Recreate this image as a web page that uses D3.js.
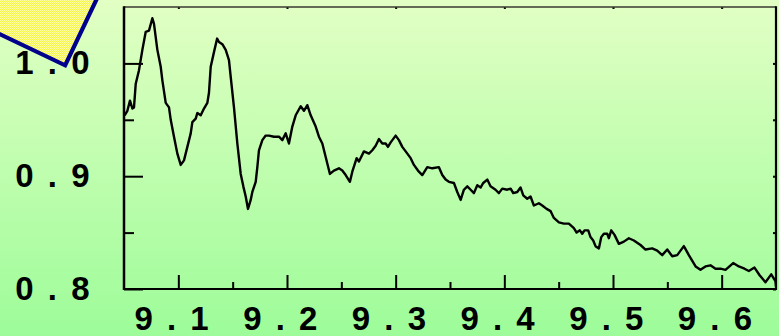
<!DOCTYPE html>
<html><head><meta charset="utf-8">
<script src="https://cdn.jsdelivr.net/npm/d3@7"></script>
<style>
html,body{margin:0;padding:0;overflow:hidden;background:#c0ffb0;}
svg{display:block;}
.lbl text{font-family:"Liberation Sans",Arial,sans-serif;font-weight:bold;font-size:33px;letter-spacing:2.5px;fill:#000;}
</style></head><body>
<svg id="chart" width="779" height="336"></svg>
<script>
// Measured spectrum: wavelength (x) and normalised response (y)
const wavelength = [
  9.0506,9.0531,9.0555,9.0577,9.0592,9.0608,9.0638,9.0669,9.0700,9.0730,
  9.0761,9.0776,9.0807,9.0838,9.0853,9.0884,9.0914,9.0930,9.0960,9.0991,
  9.1022,9.1052,9.1083,9.1114,9.1129,9.1160,9.1175,9.1206,9.1236,9.1267,
  9.1282,9.1298,9.1328,9.1357,9.1374,9.1405,9.1436,9.1466,9.1482,9.1512,
  9.1543,9.1574,9.1598,9.1620,9.1641,9.1666,9.1681,9.1712,9.1727,9.1742,
  9.1773,9.1804,9.1834,9.1880,9.1926,9.1957,9.1988,9.2018,9.2049,9.2080,
  9.2126,9.2156,9.2187,9.2218,9.2264,9.2294,9.2325,9.2356,9.2395,9.2432,
  9.2478,9.2509,9.2540,9.2579,9.2601,9.2641,9.2662,9.2708,9.2754,9.2785,
  9.2816,9.2846,9.2877,9.2908,9.2929,9.2954,9.3000,9.3030,9.3061,9.3092,
  9.3138,9.3168,9.3205,9.3245,9.3291,9.3337,9.3398,9.3429,9.3460,9.3490,
  9.3536,9.3567,9.3598,9.3628,9.3659,9.3690,9.3720,9.3751,9.3782,9.3806,
  9.3843,9.3873,9.3919,9.3950,9.3981,9.4027,9.4058,9.4082,9.4119,9.4149,
  9.4174,9.4211,9.4241,9.4272,9.4318,9.4349,9.4389,9.4426,9.4456,9.4502,
  9.4548,9.4594,9.4640,9.4665,9.4695,9.4717,9.4738,9.4772,9.4793,9.4818,
  9.4839,9.4870,9.4892,9.4916,9.4947,9.4962,9.4984,9.5014,9.5054,9.5100,
  9.5146,9.5192,9.5253,9.5299,9.5361,9.5407,9.5453,9.5499,9.5545,9.5591,
  9.5652,9.5698,9.5760,9.5805,9.5851,9.5897,9.5943,9.5989,9.6035,9.6106,
  9.6158,9.6210,9.6250,9.6302,9.6351,9.6403,9.6456,9.6495,9.6500
];
const response = [
  0.954,0.958,0.967,0.960,0.961,0.982,0.994,1.012,1.028,1.029,
  1.040,1.035,1.012,0.997,0.985,0.965,0.961,0.950,0.935,0.920,
  0.910,0.914,0.926,0.938,0.948,0.951,0.956,0.954,0.960,0.965,
  0.974,0.997,1.010,1.022,1.019,1.017,1.012,1.003,0.988,0.961,
  0.929,0.902,0.891,0.882,0.871,0.879,0.886,0.895,0.908,0.923,
  0.932,0.936,0.936,0.935,0.935,0.932,0.938,0.929,0.944,0.954,
  0.962,0.958,0.963,0.954,0.944,0.935,0.929,0.917,0.902,0.905,
  0.907,0.905,0.901,0.895,0.904,0.916,0.913,0.922,0.920,0.923,
  0.927,0.933,0.929,0.929,0.926,0.930,0.936,0.932,0.926,0.922,
  0.916,0.910,0.905,0.901,0.908,0.907,0.908,0.901,0.897,0.895,
  0.894,0.886,0.879,0.888,0.891,0.888,0.885,0.892,0.890,0.894,
  0.897,0.891,0.888,0.885,0.889,0.888,0.889,0.885,0.886,0.890,
  0.883,0.880,0.882,0.874,0.876,0.874,0.871,0.869,0.863,0.859,
  0.858,0.858,0.854,0.850,0.852,0.849,0.852,0.852,0.846,0.843,
  0.838,0.836,0.846,0.849,0.849,0.845,0.852,0.848,0.840,0.842,
  0.845,0.843,0.839,0.835,0.836,0.834,0.830,0.835,0.829,0.830,
  0.838,0.830,0.820,0.817,0.820,0.821,0.818,0.818,0.817,0.823,
  0.820,0.818,0.816,0.819,0.812,0.806,0.813,0.807,0.802
];

const xMajorTicks = [9.1, 9.2, 9.3, 9.4, 9.5, 9.6];
const xMinorTicks = [9.15, 9.25, 9.35, 9.45, 9.55];
const xTickLabels = ["9 . 1", "9 . 2", "9 . 3", "9 . 4", "9 . 5", "9 . 6"];
const yMajorTicks = [0.8, 0.9, 1.0];
const yMinorTicks = [0.85, 0.95];
const yTickLabels = ["0 . 8", "0 . 9", "1 . 0"];

const W = 779, H = 336;
const plot = {left: 124, right: 776, top: 7, bottom: 289};

const svg = d3.select("#chart");
const defs = svg.append("defs");

// background wash
const bg = defs.append("linearGradient").attr("id", "bgGrad")
  .attr("x1", 0).attr("y1", 0).attr("x2", 0).attr("y2", 1);
bg.append("stop").attr("offset", "0%").attr("stop-color", "#e2ffc4");
bg.append("stop").attr("offset", "100%").attr("stop-color", "#9dfc99");
svg.append("rect").attr("width", W).attr("height", H).attr("fill", "url(#bgGrad)");

// stippled yellow fill for the callout
const pat = defs.append("pattern").attr("id", "dots")
  .attr("width", 2).attr("height", 2).attr("patternUnits", "userSpaceOnUse");
pat.append("rect").attr("width", 2).attr("height", 2).attr("fill", "#f4f44c");
pat.append("rect").attr("width", 1).attr("height", 1).attr("fill", "#ffffa6");
pat.append("rect").attr("x", 1).attr("y", 1).attr("width", 1).attr("height", 1).attr("fill", "#ffffa6");

defs.append("clipPath").attr("id", "plotClip").append("rect")
  .attr("x", plot.left).attr("y", plot.top)
  .attr("width", plot.right - plot.left).attr("height", plot.bottom - plot.top);

const x = d3.scaleLinear().domain([9.05, 9.65]).range([plot.left, plot.right]);
const y = d3.scaleLinear().domain([0.8, 1.05]).range([plot.bottom, plot.top]);

// helper: axis of inward ticks, no labels
function ticks(axisFn, scale, values, size, transform) {
  const g = svg.append("g").attr("transform", transform)
    .call(axisFn(scale).tickValues(values).tickSize(-size).tickFormat(""));
  g.select(".domain").remove();
  g.selectAll("line").attr("stroke", "#000").attr("stroke-width", 2);
  return g;
}
ticks(d3.axisLeft, y, yMajorTicks, 19, `translate(${plot.left},0)`);
ticks(d3.axisLeft, y, yMinorTicks, 10, `translate(${plot.left},0)`);
ticks(d3.axisRight, y, yMajorTicks.concat(yMinorTicks), 3, `translate(${plot.right},0)`);
ticks(d3.axisBottom, x, xMajorTicks, 14, `translate(0,${plot.bottom})`);
ticks(d3.axisBottom, x, xMinorTicks, 7, `translate(0,${plot.bottom})`);
ticks(d3.axisTop, x, xMajorTicks, 2, `translate(0,${plot.top})`);

// frame
svg.append("line").attr("x1", plot.left).attr("x2", plot.right)
  .attr("y1", plot.top).attr("y2", plot.top)
  .attr("stroke", "#3a3a30").attr("stroke-width", 1.5);
svg.append("line").attr("x1", plot.left).attr("x2", plot.left)
  .attr("y1", plot.top - 0.75).attr("y2", plot.bottom + 1)
  .attr("stroke", "#000").attr("stroke-width", 2.5);
svg.append("line").attr("x1", plot.right).attr("x2", plot.right)
  .attr("y1", plot.top - 0.75).attr("y2", plot.bottom + 1)
  .attr("stroke", "#000").attr("stroke-width", 2.2);
svg.append("line").attr("x1", plot.left).attr("x2", plot.right)
  .attr("y1", plot.bottom).attr("y2", plot.bottom)
  .attr("stroke", "#000").attr("stroke-width", 2);

// tick labels
const yl = svg.append("g").attr("class", "lbl")
  .attr("transform", `translate(${plot.left},0)`)
  .call(d3.axisLeft(y).tickValues(yMajorTicks).tickSize(0).tickPadding(32)
    .tickFormat((d, i) => yTickLabels[i]));
yl.select(".domain").remove();

const xl = svg.append("g").attr("class", "lbl")
  .attr("transform", `translate(0,${plot.bottom})`)
  .call(d3.axisBottom(x).tickValues(xMajorTicks).tickSize(0).tickPadding(18)
    .tickFormat((d, i) => xTickLabels[i]));
xl.select(".domain").remove();
xl.selectAll("text").attr("dx", -6);

// spectrum trace
const pts = wavelength.map((w, i) => [w, response[i]]);
svg.append("path").datum(pts)
  .attr("clip-path", "url(#plotClip)")
  .attr("fill", "none").attr("stroke", "#000").attr("stroke-width", 2.4)
  .attr("stroke-linejoin", "round")
  .attr("d", d3.line().x(d => x(d[0])).y(d => y(d[1])));

// callout square tipped into the corner
const ang = 25.5 * Math.PI / 180, side = 150;
const tip = [65.1, 65.3];
const a = [tip[0] - side * Math.cos(ang), tip[1] - side * Math.sin(ang)];
const b = [tip[0] + side * Math.sin(ang), tip[1] - side * Math.cos(ang)];
const c = [a[0] + b[0] - tip[0], a[1] + b[1] - tip[1]];
svg.append("path")
  .attr("d", "M" + [tip, b, c, a].map(p => p.join(",")).join("L") + "Z")
  .attr("fill", "url(#dots)").attr("stroke", "#00008c").attr("stroke-width", 4.2)
  .attr("stroke-linejoin", "miter");
</script>
</body></html>
